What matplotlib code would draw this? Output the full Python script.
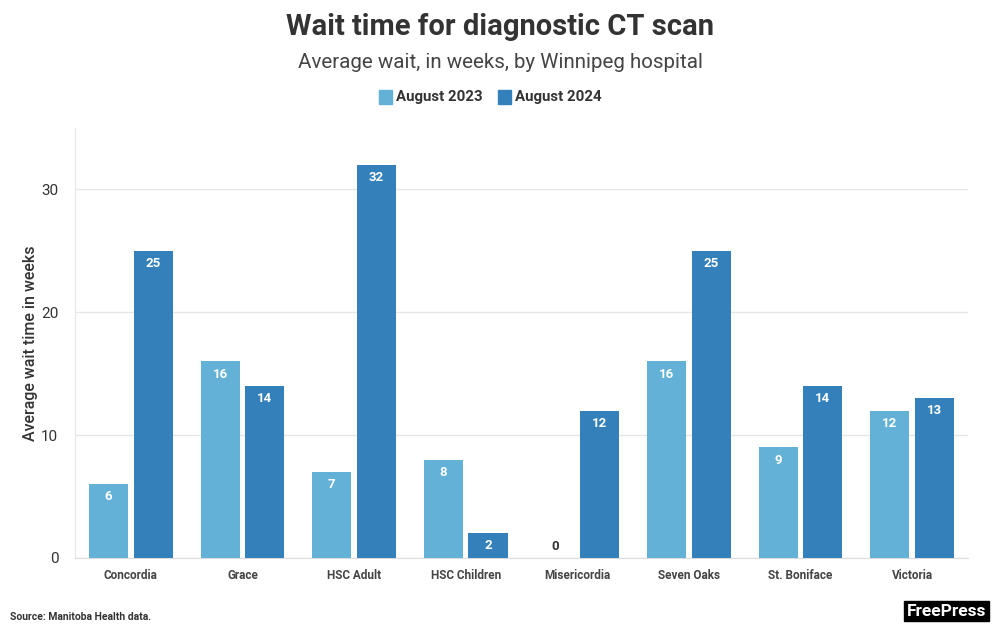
import matplotlib
matplotlib.use("Agg")
import matplotlib.pyplot as plt
from matplotlib.patches import Rectangle
import numpy as np

plt.rcParams['font.family'] = ['Roboto', 'DejaVu Sans']

hospitals = ["Concordia", "Grace", "HSC Adult", "HSC Children", "Misericordia",
             "Seven Oaks", "St. Boniface", "Victoria"]
aug2023 = [6, 16, 7, 8, 0, 16, 9, 12]
aug2024 = [25, 14, 32, 2, 12, 25, 14, 13]
series_names = ["August 2023", "August 2024"]
yticks = [0, 10, 20, 30]

c23 = "#63b1d6"
c24 = "#3380bb"

fig = plt.figure(figsize=(10, 6.34), dpi=100)
ax = fig.add_axes([0.075, 0.12, 0.893, 0.678])

x = np.arange(len(hospitals))
w = 0.35
off = 0.2
b1 = ax.bar(x - off, aug2023, w, color=c23, zorder=3)
b2 = ax.bar(x + off, aug2024, w, color=c24, zorder=3)

for bars, vals in ((b1, aug2023), (b2, aug2024)):
    for r, v in zip(bars, vals):
        cx = r.get_x() + r.get_width() / 2
        if v > 0:
            ax.text(cx, v - 0.5, str(v), ha="center", va="top", color="white",
                    fontsize=9.5, fontweight="bold", zorder=4)
        else:
            ax.text(cx, 0.4, str(v), ha="center", va="bottom", color="#333333",
                    fontsize=9.5, fontweight="bold", zorder=4)

ax.set_xlim(-0.5, len(hospitals) - 0.5)
ax.set_ylim(0, 35)
ax.set_yticks(yticks)
ax.set_yticklabels([str(t) for t in yticks], fontsize=11, color="#333333")
ax.set_xticks(x)
ax.set_xticklabels(hospitals, fontsize=8.5, color="#444444", fontweight="bold")
ax.tick_params(axis="both", length=0, pad=8)
ax.tick_params(axis="y", pad=12)
ax.grid(axis="y", color="#e6e6e6", linewidth=1, zorder=0)
for s in ("top", "right"):
    ax.spines[s].set_visible(False)
ax.spines["left"].set_color("#e6e6e6")
ax.spines["bottom"].set_color("#dddddd")
ax.set_ylabel("Average wait time in weeks", fontsize=11.5, color="#333333",
              labelpad=2, fontweight="medium")

fig.text(0.5, 0.958, "Wait time for diagnostic CT scan", ha="center", va="center",
         fontsize=21, fontweight="bold", color="#333333")
fig.text(0.5, 0.902, "Average wait, in weeks, by Winnipeg hospital", ha="center",
         va="center", fontsize=14.8, color="#444444")

# legend
ly = 0.847
fig.patches.append(Rectangle((0.379, ly - 0.011), 0.013, 0.022, transform=fig.transFigure,
                             color=c23, figure=fig))
fig.text(0.396, ly, series_names[0], ha="left", va="center", fontsize=10.8,
         fontweight="bold", color="#333333")
fig.patches.append(Rectangle((0.498, ly - 0.011), 0.013, 0.022, transform=fig.transFigure,
                             color=c24, figure=fig))
fig.text(0.515, ly, series_names[1], ha="left", va="center", fontsize=10.8,
         fontweight="bold", color="#333333")

fig.text(0.01, 0.027, "Source: Manitoba Health data.", ha="left", va="center",
         fontsize=7.5, color="#333333", fontweight="bold")
fig.text(0.986, 0.036, "FreePress", ha="right", va="center", fontsize=12.5,
         fontweight="bold", color="white",
         bbox=dict(boxstyle="square,pad=0.15", fc="black", ec="black"))

fig.savefig("out.png", dpi=100)
